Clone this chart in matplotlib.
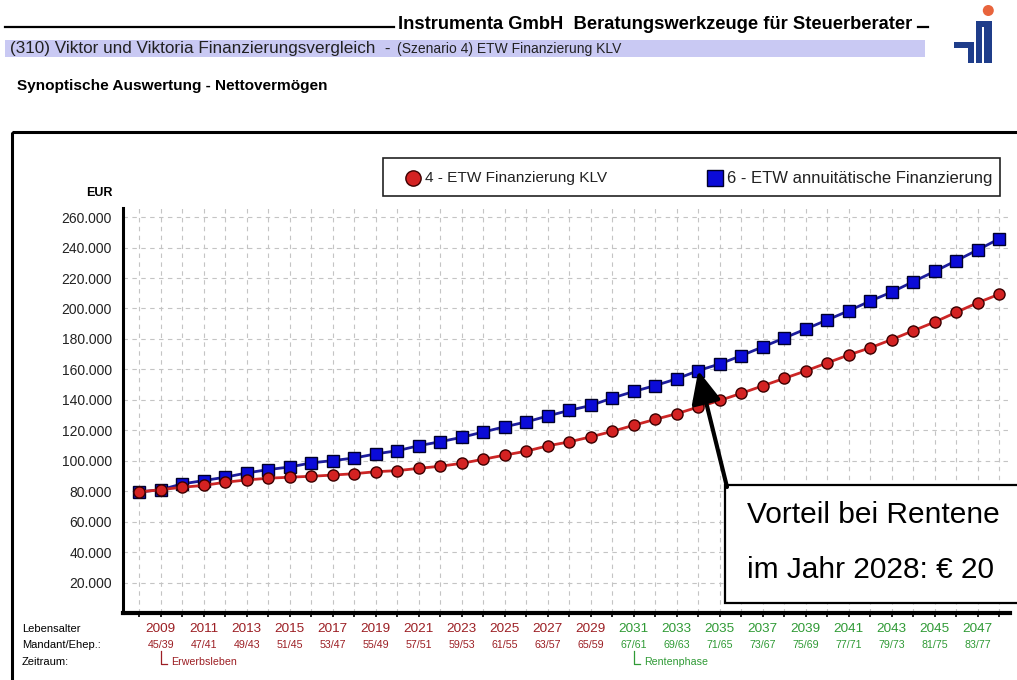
import matplotlib
matplotlib.use('Agg')
import matplotlib.pyplot as plt
from matplotlib import font_manager, transforms
from matplotlib.patches import Rectangle, Circle
from matplotlib.lines import Line2D
from matplotlib.ticker import FuncFormatter

# ---------------- data ----------------
years = list(range(2008, 2049))
klv = [79500, 81000, 82600, 83800, 85900, 87400, 88500, 89200, 89800, 90600,
       91500, 92800, 93500, 95000, 96400, 98300, 101000, 103700, 106300, 109800,
       112400, 115700, 119300, 123300, 127200, 130900, 135300, 139600, 144300, 149200,
       154100, 159000, 164300, 169500, 174200, 179600, 185400, 191100, 197500, 203800,
       209400]
annu = [79500, 81000, 84800, 87000, 89200, 92000, 94200, 95900, 98600, 100100,
        101800, 104500, 106600, 109900, 112500, 115400, 118900, 122300, 125500, 129400,
        133100, 136300, 141200, 145500, 149400, 153800, 159200, 163600, 169000, 174800,
        180600, 186500, 192500, 198500, 204900, 210800, 217600, 224400, 231400, 238500,
        245800]
label_years = [2009, 2011, 2013, 2015, 2017, 2019, 2021, 2023, 2025, 2027,
               2029, 2031, 2033, 2035, 2037, 2039, 2041, 2043, 2045, 2047]
ages = ["45/39", "47/41", "49/43", "51/45", "53/47", "55/49", "57/51", "59/53", "61/55", "63/57",
        "65/59", "67/61", "69/63", "71/65", "73/67", "75/69", "77/71", "79/73", "81/75", "83/77"]
retire_year = 2031
y_ticks = [20000, 40000, 60000, 80000, 100000, 120000, 140000, 160000,
           180000, 200000, 220000, 240000, 260000]
series_names = ["4 - ETW Finanzierung KLV", "6 - ETW annuitätische Finanzierung"]
arrow_year = 2034

# ---------------- fonts ----------------
names = {f.name for f in font_manager.fontManager.ttflist}
SANS = 'Liberation Sans' if 'Liberation Sans' in names else 'DejaVu Sans'
NARROW = 'Liberation Sans Narrow' if 'Liberation Sans Narrow' in names else SANS
plt.rcParams['font.family'] = [SANS, 'DejaVu Sans']

W, H = 1017, 680
fig = plt.figure(figsize=(W / 100, H / 100), dpi=100)
fig.patch.set_facecolor('white')

RED_T = '#9c1f24'
GREEN_T = '#2f9a35'


def px_axes(l, t, r, b, **kw):
    return fig.add_axes([l / W, 1 - b / H, (r - l) / W, (b - t) / H], **kw)


# ---------------- main chart ----------------
ax = px_axes(123, 208, 1010, 613, zorder=2)
ax.plot(years, annu, color='#1c1c9c', lw=2, marker='s', ms=8,
        mfc='#0b0bd8', mec='#00002a', mew=1, zorder=3)
ax.plot(years, klv, color='#cc2525', lw=2, marker='o', ms=8,
        mfc='#d42222', mec='#3a0000', mew=1, zorder=4)
ax.set_xlim(2007.24, 2048.5)
ax.set_ylim(0, 266000)
ax.set_yticks(y_ticks)
ax.yaxis.set_major_formatter(FuncFormatter(lambda v, p: f"{v:,.0f}".replace(',', '.')))
ax.set_xticks(years)
ax.tick_params(axis='x', labelbottom=False, length=3, width=1.2, direction='out')
ax.tick_params(axis='y', length=0, pad=8, labelsize=10, colors='#222222')
ax.grid(True, color='#c4c4c4', ls=(0, (4, 4)), lw=0.8)
ax.set_axisbelow(True)
for s in ('top', 'right'):
    ax.spines[s].set_visible(False)
ax.spines['left'].set_linewidth(2.2)
ax.spines['bottom'].set_linewidth(3)

# ---------------- overlay (pixel coords) ----------------
ov = fig.add_axes([0, 0, 1, 1], zorder=5)
ov.set_xlim(0, W)
ov.set_ylim(H, 0)
ov.axis('off')
ov.patch.set_alpha(0)

r = fig.canvas.get_renderer()


def fit(t, width):
    bb = t.get_window_extent(renderer=r)
    t.set_fontsize(t.get_fontsize() * width / bb.width)
    return t


# header
ov.plot([5, 394], [27, 27], color='black', lw=1.6)
ov.plot([918, 928], [27, 27], color='black', lw=1.6)
t = ov.text(398, 29, "Instrumenta GmbH  Beratungswerkzeuge für Steuerberater",
            family=[NARROW, 'DejaVu Sans'], fontweight='bold', fontsize=13, va='baseline', ha='left')
fit(t, 515)
ov.add_patch(Rectangle((5, 40), 920, 17, facecolor='#c9c9f3', edgecolor='none'))
t = ov.text(10, 49, "(310) Viktor und Viktoria Finanzierungsvergleich  -",
            family=[NARROW, 'DejaVu Sans'], fontsize=9.5, va='center', ha='left', color='#222222')
fit(t, 380)
t = ov.text(397, 49, "(Szenario 4) ETW Finanzierung KLV",
            family=[NARROW, 'DejaVu Sans'], fontsize=8, va='center', ha='left', color='#222222')
fit(t, 225)
t = ov.text(17, 86, "Synoptische Auswertung - Nettovermögen",
            family=[NARROW, 'DejaVu Sans'], fontweight='bold', fontsize=10.5, va='center', ha='left')
fit(t, 313)

# logo
LB = '#1f3d8a'
ov.add_patch(Circle((988.3, 10.5), 5.5, facecolor='#e8643c', edgecolor='none'))
ov.add_patch(Rectangle((954, 41.7), 20, 6, facecolor=LB, edgecolor='none'))
ov.add_patch(Rectangle((967.7, 41.7), 6.3, 21.6, facecolor=LB, edgecolor='none'))
ov.add_patch(Rectangle((975.7, 20.7), 16, 6, facecolor=LB, edgecolor='none'))
ov.add_patch(Rectangle((975.7, 20.7), 6, 42.6, facecolor=LB, edgecolor='none'))
ov.add_patch(Rectangle((984, 20.7), 7.7, 42.6, facecolor=LB, edgecolor='none'))

# chart frame
ov.add_patch(Rectangle((12, 132), 1100, 600, facecolor='none', edgecolor='black', lw=2.2))

# legend
ov.add_patch(Rectangle((383, 158), 617, 38, facecolor='white', edgecolor='#222222', lw=1.2))
ov.add_line(Line2D([413], [178], marker='o', ms=11, mfc='#d42222', mec='#3a0000', mew=1))
t = ov.text(425, 178, series_names[0], fontsize=10, va='center', ha='left', color='#222222')
fit(t, 182)
ov.add_line(Line2D([715], [178], marker='s', ms=11, mfc='#0b0bd8', mec='#00002a', mew=1))
t = ov.text(727, 178, series_names[1], fontsize=10, va='center', ha='left', color='#222222')
fit(t, 266)

# EUR
ov.text(99, 192.5, "EUR", fontweight='bold', fontsize=9, va='center', ha='center')

# bottom labels
ov.text(22, 629, "Lebensalter", fontsize=8, va='center', ha='left', family=[NARROW, 'DejaVu Sans'])
ov.text(22, 645, "Mandant/Ehep.:", fontsize=8, va='center', ha='left', family=[NARROW, 'DejaVu Sans'])
ov.text(22, 662, "Zeitraum:", fontsize=8, va='center', ha='left', family=[NARROW, 'DejaVu Sans'])

trans = transforms.blended_transform_factory(ax.transData, ov.transData)
for yr, ag in zip(label_years, ages):
    c = GREEN_T if yr >= retire_year else RED_T
    ov.text(yr, 628.5, str(yr), transform=trans, fontsize=9.7, ha='center', va='center', color=c)
    ov.text(yr, 644.5, ag, transform=trans, fontsize=7.7, ha='center', va='center', color=c,
            family=[NARROW, 'DejaVu Sans'])

# phase markers
for yr, txt, c in ((label_years[0], "Erwerbsleben", RED_T), (retire_year, "Rentenphase", GREEN_T)):
    ov.plot([yr, yr, yr + 0.3], [651, 664, 664], transform=trans, color=c, lw=0.9)
    ov.text(yr + 0.5, 662, txt, transform=trans, fontsize=7.7, ha='left', va='center', color=c,
            family=[NARROW, 'DejaVu Sans'])

# annotation box
ov.add_patch(Rectangle((725, 485), 400, 118, facecolor='white', edgecolor='black', lw=1.6))
ov.text(747, 523, "Vorteil bei Rentene", fontsize=21.5, va='baseline', ha='left', color='black')
ov.text(747, 578, "im Jahr 2028: € 20", fontsize=21.5, va='baseline', ha='left', color='black')
ov.annotate('', xy=(arrow_year, annu[years.index(arrow_year)]), xycoords=ax.transData,
            xytext=(727, 487), textcoords=ov.transData,
            arrowprops=dict(arrowstyle='-|>,head_length=1.1,head_width=0.5', mutation_scale=18,
                            lw=3, color='black', shrinkA=0, shrinkB=0))

fig.savefig('out.png', dpi=100)
